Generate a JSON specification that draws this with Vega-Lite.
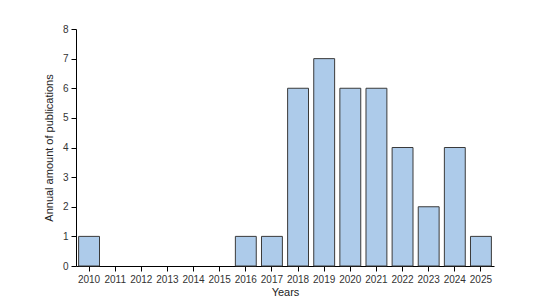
{
  "$schema": "https://vega.github.io/schema/vega-lite/v6.json",
  "width": 418,
  "height": 237,
  "autosize": {"type": "none"},
  "padding": {"left": 76, "top": 29, "right": 56, "bottom": 42},
  "background": "white",
  "data": {"values": [
    {"year": "2010", "count": 1},
    {"year": "2011", "count": 0},
    {"year": "2012", "count": 0},
    {"year": "2013", "count": 0},
    {"year": "2014", "count": 0},
    {"year": "2015", "count": 0},
    {"year": "2016", "count": 1},
    {"year": "2017", "count": 1},
    {"year": "2018", "count": 6},
    {"year": "2019", "count": 7},
    {"year": "2020", "count": 6},
    {"year": "2021", "count": 6},
    {"year": "2022", "count": 4},
    {"year": "2023", "count": 2},
    {"year": "2024", "count": 4},
    {"year": "2025", "count": 1}
  ]},
  "mark": {"type": "bar", "fill": "#adcbea", "strokeWidth": 1},
  "encoding": {
    "stroke": {"condition": {"test": "datum.count === 0", "value": null}, "value": "#3a3a3a"},
    "x": {
      "field": "year", "type": "ordinal", "title": "Years",
      "scale": {"paddingInner": 0.2, "paddingOuter": 0.1},
      "axis": {"labelAngle": 0, "labelFont": "Liberation Sans", "labelFontSize": 10, "labelColor": "#333",
               "titleFont": "Liberation Sans", "titleFontSize": 11, "titleFontWeight": "normal", "titleColor": "#222",
               "titlePadding": 2, "domainColor": "#000", "tickColor": "#000", "tickSize": 5, "labelPadding": 3}
    },
    "y": {
      "field": "count", "type": "quantitative", "title": "Annual amount of publications",
      "scale": {"domain": [0, 8], "nice": false},
      "axis": {"values": [0,1,2,3,4,5,6,7,8], "grid": false, "labelFont": "Liberation Sans", "labelFontSize": 10, "labelColor": "#333",
               "titleFont": "Liberation Sans", "titleFontSize": 11, "titleFontWeight": "normal", "titleColor": "#222",
               "titlePadding": 8, "domainColor": "#000", "tickColor": "#000", "tickSize": 5, "labelPadding": 3}
    }
  },
  "config": {"view": {"stroke": null}}
}
